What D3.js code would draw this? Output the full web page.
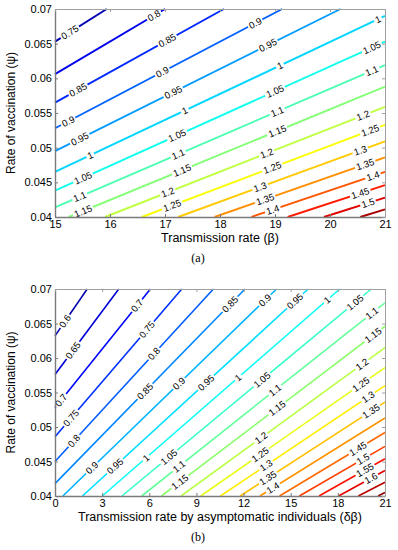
<!DOCTYPE html>
<html>
<head>
<meta charset="utf-8">
<script src="https://cdn.jsdelivr.net/npm/d3@7"></script>
<style>
body{margin:0;background:#fff;}
svg text{font-family:"Liberation Sans",Arial,sans-serif;}
</style>
</head>
<body>
<svg id="chart" width="398" height="550"></svg>
<script>
// ---- panel (a): psi vs beta ----
const levelsA = [0.75,0.8,0.85,0.9,0.95,1,1.05,1.1,1.15,1.2,1.25,1.3,1.35,1.4,1.45,1.5,1.55];
// where each contour enters / leaves the box, [beta, psi]
const startA = [[15,0.0653],[15,0.0606],[15,0.0565],[15,0.0528],[15,0.0495],[15,0.0465],[15,0.0438],[15,0.0414],
  [15.25,0.04],[15.91,0.04],[16.58,0.04],[17.24,0.04],[17.90,0.04],[18.57,0.04],[19.23,0.04],[19.89,0.04],[20.55,0.04]];
const endA = [[15.94,0.07],[17.00,0.07],[18.07,0.07],[19.13,0.07],[20.19,0.07],[21,0.0690],[21,0.0653],[21,0.0619],
  [21,0.0588],[21,0.0559],[21,0.0533],[21,0.0509],[21,0.0486],[21,0.0465],[21,0.0446],[21,0.0428],[21,0.0411]];
// beta where the inline labels sit
const labelsA = [[15.27],[16.8],[15.42,17.04],[15.24,16.95,18.64],[15.45,17.15,18.87],[15.64,17.36,19.09,20.87],
  [15.51,17.22,19.0,20.76],[15.45,17.24,19.04,20.76],[15.51,17.31,19.04],[17.05,18.85,20.6],[17.13,18.95,20.73],
  [18.73,20.55],[18.82,20.64],[18.96,20.78],[20.55],[20.69],[]];
const rangeA = [0.706, 1.583];
const xTicksA = [15,16,17,18,19,20,21];

// ---- panel (b): psi vs delta*beta ----
const levelsB = [0.6,0.65,0.7,0.75,0.8,0.85,0.9,0.95,1,1.05,1.1,1.15,1.2,1.25,1.3,1.35,1.4,1.45,1.5,1.55,1.6,1.65,1.7];
const startB = [[0,0.0632],[0,0.0576],[0,0.0528],[0,0.0486],[0,0.0450],[0,0.0418],[0.50,0.04],[1.75,0.04],[3.01,0.04],
  [4.26,0.04],[5.52,0.04],[6.77,0.04],[8.02,0.04],[9.27,0.04],[10.53,0.04],[11.78,0.04],[13.04,0.04],[14.29,0.04],
  [15.55,0.04],[16.80,0.04],[18.05,0.04],[19.30,0.04],[20.56,0.04]];
const endB = [[2.05,0.07],[4.06,0.07],[6.07,0.07],[8.07,0.07],[10.08,0.07],[12.09,0.07],[14.10,0.07],[16.11,0.07],
  [18.12,0.07],[20.13,0.07],[21,0.0680],[21,0.0646],[21,0.0615],[21,0.0586],[21,0.0560],[21,0.0536],[21,0.0513],
  [21,0.0492],[21,0.0472],[21,0.0454],[21,0.0437],[21,0.0420],[21,0.0405]];
const labelsB = [[0.64],[1.15],[0.38,5.22],[1.02,5.85],[1.21,6.30],[5.73,11.14],[2.35,7.89,13.36],[3.82,9.61,15.27],
  [5.79,11.65,17.31],[7.25,13.17,19.09],[7.89,14.0,20.17],[7.95,14.13,20.24],[13.11,19.54],[13.05,19.47],
  [13.43,19.92],[13.55,20.11],[13.87],[19.28],[19.6],[19.73],[20.11],[],[]];
const rangeB = [0.549, 1.717];
const xTicksB = [0,3,6,9,12,15,18,21];

const psiDomain = [0.04, 0.07];
const yTicks = [0.04,0.045,0.05,0.055,0.06,0.065,0.07];

// matlab jet
function jet(t){
  const c = v => Math.max(0, Math.min(1, v));
  return d3.rgb(255*c(1.5-Math.abs(4*t-3)), 255*c(1.5-Math.abs(4*t-2)), 255*c(1.5-Math.abs(4*t-1))) + "";
}

const svg = d3.select("#chart");

function panel(cfg){
  const g = svg.append("g");
  const x = d3.scaleLinear().domain([cfg.xTicks[0], cfg.xTicks[cfg.xTicks.length-1]]).range([55,385]);
  const y = d3.scaleLinear().domain(psiDomain).range([cfg.bottom, cfg.top]);
  const colour = d3.scaleSequential(jet).domain(cfg.range);
  const line = d3.line().x(d => x(d[0])).y(d => y(d[1]));

  const rows = cfg.levels.map((lv,i) => ({level: lv, pts: [cfg.start[i], cfg.end[i]], labels: cfg.labels[i]}));

  g.selectAll("path.contour").data(rows).join("path")
    .attr("class","contour")
    .attr("d", d => line(d.pts))
    .attr("fill","none")
    .attr("stroke", d => colour(d.level))
    .attr("stroke-width", cfg.lw);

  // inline labels, rotated along the line with a small gap
  rows.forEach(d => {
    const [p0,p1] = d.pts;
    const ang = Math.atan2(y(p1[1])-y(p0[1]), x(p1[0])-x(p0[0])) * 180 / Math.PI;
    d.labels.forEach(lx => {
      const t = (lx - p0[0]) / (p1[0] - p0[0]);
      const ly = p0[1] + t*(p1[1]-p0[1]);
      const lg = g.append("g").attr("transform", `translate(${x(lx)},${y(ly)}) rotate(${ang})`);
      const rect = lg.append("rect").attr("fill","#fff");
      const txt = lg.append("text")
        .attr("text-anchor","middle").attr("dy","0.35em")
        .attr("font-size", 9.5).attr("fill","#000")
        .text(String(d.level));
      const w = txt.node().getComputedTextLength();
      rect.attr("x", -w/2-1.5).attr("y", -3).attr("width", w+3).attr("height", 6);
    });
  });

  // axes, ticks pointing inwards
  const ax = g.append("g").attr("transform", `translate(0,${cfg.bottom})`)
    .call(d3.axisBottom(x).tickValues(cfg.xTicks).tickFormat(d => String(d)).tickSize(-3).tickSizeOuter(0).tickPadding(3));
  const ay = g.append("g").attr("transform", "translate(55,0)")
    .call(d3.axisLeft(y).tickValues(yTicks).tickFormat(d => String(d)).tickSize(-3).tickSizeOuter(0).tickPadding(3));
  const at = g.append("g").attr("transform", `translate(0,${cfg.top})`)
    .call(d3.axisTop(x).tickValues(cfg.xTicks).tickFormat("").tickSize(-3).tickSizeOuter(0));
  const ar = g.append("g").attr("transform", "translate(385,0)")
    .call(d3.axisRight(y).tickValues(yTicks).tickFormat("").tickSize(-3).tickSizeOuter(0));

  [ax, ay].forEach(a => {
    a.select(".domain").attr("stroke","#7a7a7a").attr("stroke-width",1.4);
    a.selectAll(".tick line").attr("stroke","#7a7a7a");
    a.selectAll(".tick text").attr("font-size",11).attr("fill","#000")
      .attr("font-family",'"Liberation Sans",Arial,sans-serif');
  });
  [at, ar].forEach(a => {
    a.select(".domain").attr("stroke","#a0a0a0").attr("stroke-width",1);
    a.selectAll(".tick line").attr("stroke","#a0a0a0");
  });

  g.append("text").attr("x",220).attr("y",cfg.bottom+24.5)
    .attr("text-anchor","middle").attr("font-size",12.5).text(cfg.xTitle);
  g.append("text")
    .attr("transform", `translate(15,${(cfg.top+cfg.bottom)/2}) rotate(-90)`)
    .attr("text-anchor","middle").attr("font-size",12).text("Rate of vaccination (ψ)");
  g.append("text").attr("x",198).attr("y",cfg.bottom+45)
    .attr("text-anchor","middle").attr("font-size",12)
    .style("font-family",'"Liberation Serif","Times New Roman",serif')
    .text(cfg.tag);
}

panel({levels: levelsA, start: startA, end: endA, labels: labelsA, range: rangeA, xTicks: xTicksA,
  top: 9, bottom: 217, lw: 1.9, xTitle: "Transmission rate (β)", tag: "(a)"});
panel({levels: levelsB, start: startB, end: endB, labels: labelsB, range: rangeB, xTicks: xTicksB,
  top: 289, bottom: 496, lw: 1.6, xTitle: "Transmission rate by asymptomatic individuals (δβ)", tag: "(b)"});
</script>
</body>
</html>
